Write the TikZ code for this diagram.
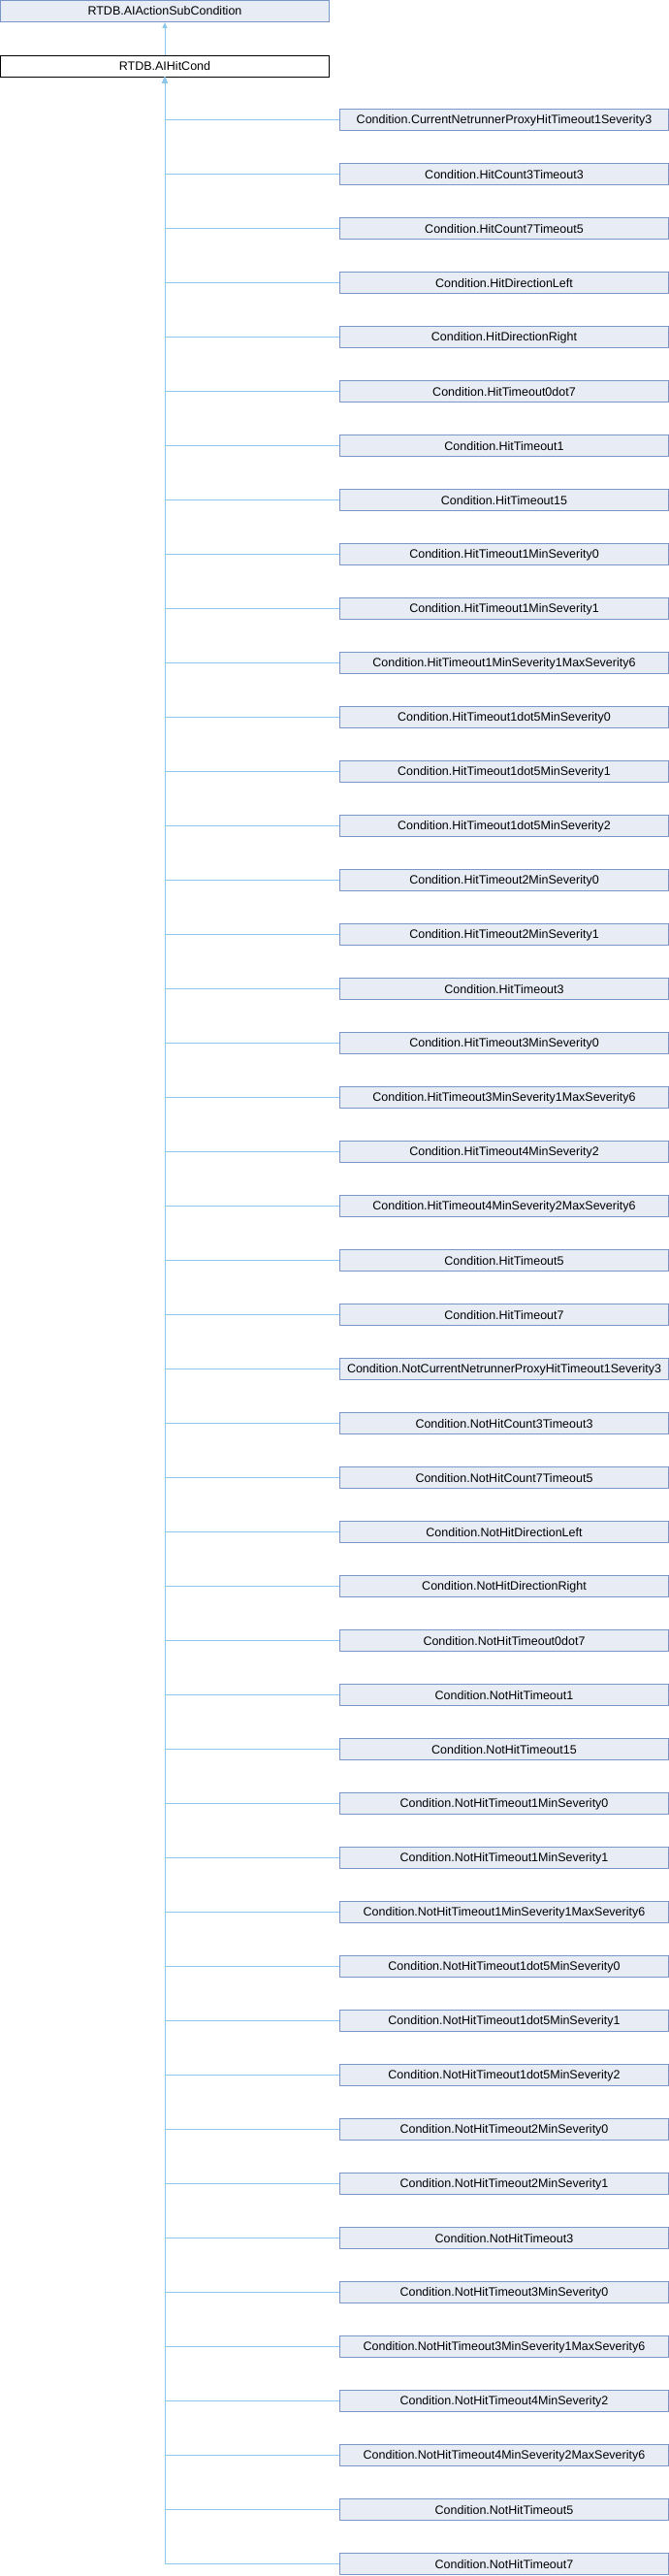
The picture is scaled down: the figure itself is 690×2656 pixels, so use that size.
\documentclass[tikz,border=0pt]{standalone}
\usepackage{fontspec}
\setmainfont{Liberation Sans}
\usetikzlibrary{arrows.meta}
\definecolor{edgec}{RGB}{140,200,235}
\definecolor{boxfill}{RGB}{232,236,245}
\definecolor{boxdraw}{RGB}{122,149,199}
\begin{document}
\begin{tikzpicture}[x=1pt,y=-1pt,
 cls/.style={draw=boxdraw, fill=boxfill, line width=1pt, minimum width=339pt, minimum height=22pt, inner sep=0pt, font=\fontsize{12.5}{14}\selectfont},
 cur/.style={cls, draw=black, fill=white},
 edge/.style={draw=edgec, line width=1pt, -{Triangle[width=5pt,length=6pt]}}]
\useasboundingbox (0,0) rectangle (690,2656);
\node[cls] (base) at (170,11.5) {RTDB.AIActionSubCondition};
\node[cur] (hit) at (170,68) {RTDB.AIHitCond};
\draw[edge] (hit.north) -- (base.south);
\foreach \t [count=\i] in {CurrentNetrunnerProxyHitTimeout1Severity3,HitCount3Timeout3,HitCount7Timeout5,HitDirectionLeft,HitDirectionRight,HitTimeout0dot7,HitTimeout1,HitTimeout15,HitTimeout1MinSeverity0,HitTimeout1MinSeverity1,HitTimeout1MinSeverity1MaxSeverity6,HitTimeout1dot5MinSeverity0,HitTimeout1dot5MinSeverity1,HitTimeout1dot5MinSeverity2,HitTimeout2MinSeverity0,HitTimeout2MinSeverity1,HitTimeout3,HitTimeout3MinSeverity0,HitTimeout3MinSeverity1MaxSeverity6,HitTimeout4MinSeverity2,HitTimeout4MinSeverity2MaxSeverity6,HitTimeout5,HitTimeout7,NotCurrentNetrunnerProxyHitTimeout1Severity3,NotHitCount3Timeout3,NotHitCount7Timeout5,NotHitDirectionLeft,NotHitDirectionRight,NotHitTimeout0dot7,NotHitTimeout1,NotHitTimeout15,NotHitTimeout1MinSeverity0,NotHitTimeout1MinSeverity1,NotHitTimeout1MinSeverity1MaxSeverity6,NotHitTimeout1dot5MinSeverity0,NotHitTimeout1dot5MinSeverity1,NotHitTimeout1dot5MinSeverity2,NotHitTimeout2MinSeverity0,NotHitTimeout2MinSeverity1,NotHitTimeout3,NotHitTimeout3MinSeverity0,NotHitTimeout3MinSeverity1MaxSeverity6,NotHitTimeout4MinSeverity2,NotHitTimeout4MinSeverity2MaxSeverity6,NotHitTimeout5,NotHitTimeout7} {
  \node[cls] (c\i) at (520,{67.8+56*\i}) {Condition.\t};
  \draw[edge] (c\i.west) -| (hit.south);
}
\end{tikzpicture}
\end{document}
